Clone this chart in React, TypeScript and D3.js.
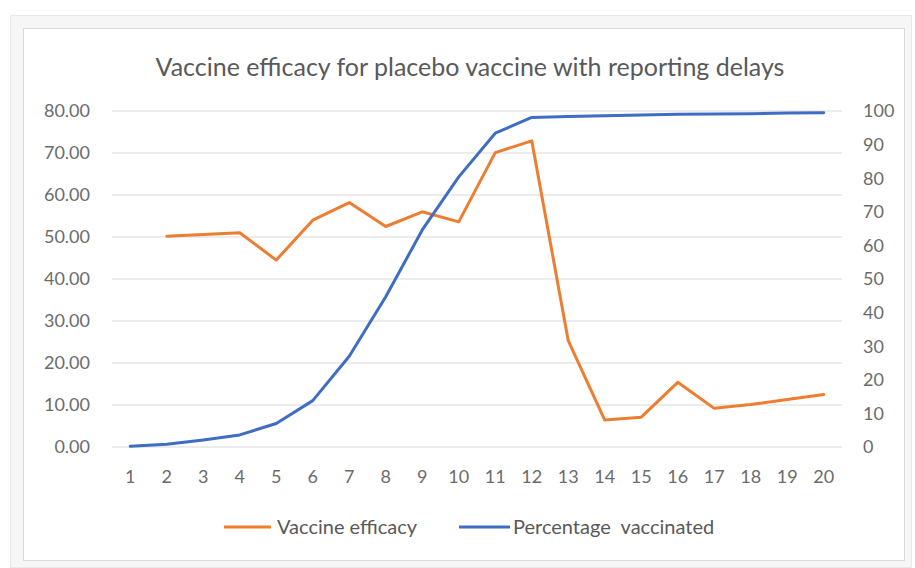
import React from 'react';
import * as d3 from 'd3';

const days = d3.range(1, 21);
const efficacyDays = [2, 3, 4, 5, 6, 7, 8, 9, 10, 11, 12, 13, 14, 15, 16, 17, 18, 19, 20];
const efficacy = [50.2, 50.6, 51.0, 44.5, 54.0, 58.2, 52.5, 56.0, 53.6, 70.1, 72.9, 25.3, 6.4, 7.1, 15.4, 9.2, 10.1, 11.3, 12.5];
const vaccinated = [0.2, 0.8, 2.1, 3.6, 7.0, 13.8, 27.0, 44.7, 64.6, 80.4, 93.4, 98.1, 98.4, 98.6, 98.8, 99.0, 99.1, 99.2, 99.4, 99.5];
const leftTicks = [0, 10, 20, 30, 40, 50, 60, 70, 80];
const rightTicks = [0, 10, 20, 30, 40, 50, 60, 70, 80, 90, 100];

const W = 915;
const H = 568;
const ORANGE = '#ED7D31';
const BLUE = '#3F6DC4';
const TXT = '#595959';
const TICK = '#6b6b6b';
const FONT = 'Lato, "Open Sans", sans-serif';

export default function App() {
  const x = d3.scalePoint<number>().domain(days).range([112, 842]).padding(0.5);
  const yL = d3.scaleLinear().domain([0, 80]).range([447, 111]);
  const yR = d3.scaleLinear().domain([0, 100]).range([447, 111]);

  const effLine = d3.line<number>()
    .x((_, i) => x(efficacyDays[i]) as number)
    .y(d => yL(d));
  const vacLine = d3.line<number>()
    .x((_, i) => x(days[i]) as number)
    .y(d => yR(d));

  return (
    <svg width={W} height={H} style={{ position: 'absolute', left: 0, top: 0 }} fontFamily={FONT}>
      <rect x={0} y={0} width={W} height={H} fill="#fff" />
      <rect x={10.5} y={15.5} width={901} height={552} fill="#f6f6f6" stroke="#e8e8e8" />
      <rect x={23.5} y={28.5} width={881} height={532} fill="#fff" stroke="#d9d9d9" />

      <text x={470} y={76} textAnchor="middle" fontSize={25} fill={TXT}>
        Vaccine efficacy for placebo vaccine with reporting delays
      </text>

      {leftTicks.map(t => (
        <g key={'l' + t}>
          <line x1={112} x2={842} y1={yL(t)} y2={yL(t)} stroke="#d9d9d9" strokeWidth={1} />
          <text x={90} y={yL(t)} dy="0.35em" textAnchor="end" fontSize={18} fill={TICK}>
            {t.toFixed(2)}
          </text>
        </g>
      ))}

      {rightTicks.map(t => (
        <text key={'r' + t} x={863} y={yR(t)} dy="0.35em" textAnchor="start" fontSize={18} fill={TICK}>
          {t}
        </text>
      ))}

      {days.map(d => (
        <text key={'x' + d} x={x(d)} y={477} dy="0.35em" textAnchor="middle" fontSize={18} fill={TICK}>
          {d}
        </text>
      ))}

      <path d={effLine(efficacy) || ''} fill="none" stroke={ORANGE} strokeWidth={3} strokeLinejoin="round" strokeLinecap="round" />
      <path d={vacLine(vaccinated) || ''} fill="none" stroke={BLUE} strokeWidth={3} strokeLinejoin="round" strokeLinecap="round" />

      <g>
        <line x1={224} x2={271} y1={527} y2={527} stroke={ORANGE} strokeWidth={3} />
        <text x={277} y={527} dy="0.35em" fontSize={20} fill={TXT}>Vaccine efficacy</text>
        <line x1={459} x2={510} y1={527} y2={527} stroke={BLUE} strokeWidth={3} />
        <text x={513} y={527} dy="0.35em" fontSize={20} fill={TXT}>{'Percentage\u00a0 vaccinated'}</text>
      </g>
    </svg>
  );
}
